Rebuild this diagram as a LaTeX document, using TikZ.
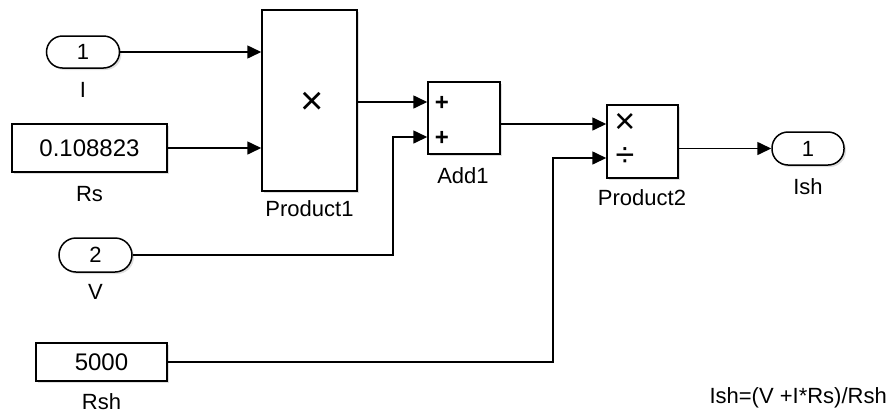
\documentclass[tikz,border=0pt]{standalone}
\usepackage{fontspec}
\setmainfont{Liberation Sans}
\usetikzlibrary{arrows.meta,shadows,calc}
\begin{document}
\begin{tikzpicture}[x=1pt,y=-1pt,
  blk/.style={draw, line width=1.5pt, fill=white, inner sep=0pt,
    drop shadow={opacity=0.25, shadow xshift=2pt, shadow yshift=-2pt},
    font=\fontsize{22}{24}\selectfont},
  constblk/.style={blk, font=\fontsize{24}{26}\selectfont},
  portblk/.style={blk, rounded corners=16pt},
  lbl/.style={inner sep=0pt, font=\fontsize{22}{24}\selectfont},
  sym/.style={inner sep=0pt},
  sig/.style={line width=1.6pt, -{Triangle[length=14pt,width=13pt]}},
]
\useasboundingbox (0,0) rectangle (892,416);

% blocks
\node[portblk, minimum width=73pt, minimum height=32pt] (in1) at (83,52) {1};
\node[lbl] (lblI) at (83,90) {I};
\node[constblk, minimum width=155pt, minimum height=48pt] (rs) at (89.5,148) {0.108823};
\node[lbl] (lblRs) at (89.5,194) {Rs};
\node[blk, minimum width=95pt, minimum height=181pt] (prod1) at (309.5,100.5) {};
\node[sym, font=\fontsize{40}{40}\selectfont] (x1) at (312,103) {×};
\node[lbl] (lblP1) at (309.5,209) {Product1};
\node[blk, minimum width=72pt, minimum height=72pt] (add1) at (464,118) {};
\node[sym, font=\fontsize{24}{24}\selectfont\bfseries] (p1) at (442,103) {+};
\node[sym, font=\fontsize{24}{24}\selectfont\bfseries] (p2) at (442,138) {+};
\node[lbl] (lblAdd) at (463,176) {Add1};
\node[portblk, minimum width=73pt, minimum height=34pt, rounded corners=17pt] (in2) at (95.5,255) {2};
\node[lbl] (lblV) at (95.5,292) {V};
\node[constblk, minimum width=131pt, minimum height=38pt] (rsh) at (101.5,362) {5000};
\node[lbl] (lblRsh) at (101.5,402) {Rsh};
\node[blk, minimum width=71pt, minimum height=73pt] (prod2) at (642.5,141.5) {};
\node[sym, font=\fontsize{36}{36}\selectfont, text height=14pt, text depth=0pt] (x2) at (625,126) {×};
\node[sym, font=\fontsize{34}{34}\selectfont, text height=14pt, text depth=0pt] (d2) at (625,159) {÷};
\node[lbl] (lblP2) at (642,198) {Product2};
\node[portblk, minimum width=72pt, minimum height=33pt] (out1) at (808,148.5) {1};
\node[lbl] (lblIsh) at (808,187) {Ish};
\node[lbl, anchor=east] (note) at (887,398) {Ish=(V +I*Rs)/Rsh};

% port coordinates
\coordinate (p1a) at (prod1.west |- 0,52);
\coordinate (p1b) at (prod1.west |- 0,148);
\coordinate (a1a) at (add1.west |- 0,102);
\coordinate (a1b) at (add1.west |- 0,137);
\coordinate (p2a) at (prod2.west |- 0,124);
\coordinate (p2b) at (prod2.west |- 0,158);
\coordinate (p2o) at (prod2.east |- 0,148.5);

% connectors
\draw[sig] (in1.east) -- (p1a);
\draw[sig] (rs.east) -- (p1b);
\draw[sig] (prod1.east |- a1a) -- (a1a);
\draw[sig] (in2.east) -- (393,255) -- (393,137) -- (a1b);
\draw[sig] (add1.east |- p2a) -- (p2a);
\draw[sig] (rsh.east) -- (553,362) -- (553,158) -- (p2b);
\draw[sig] (p2o) -- (out1.west);
\end{tikzpicture}
\end{document}
